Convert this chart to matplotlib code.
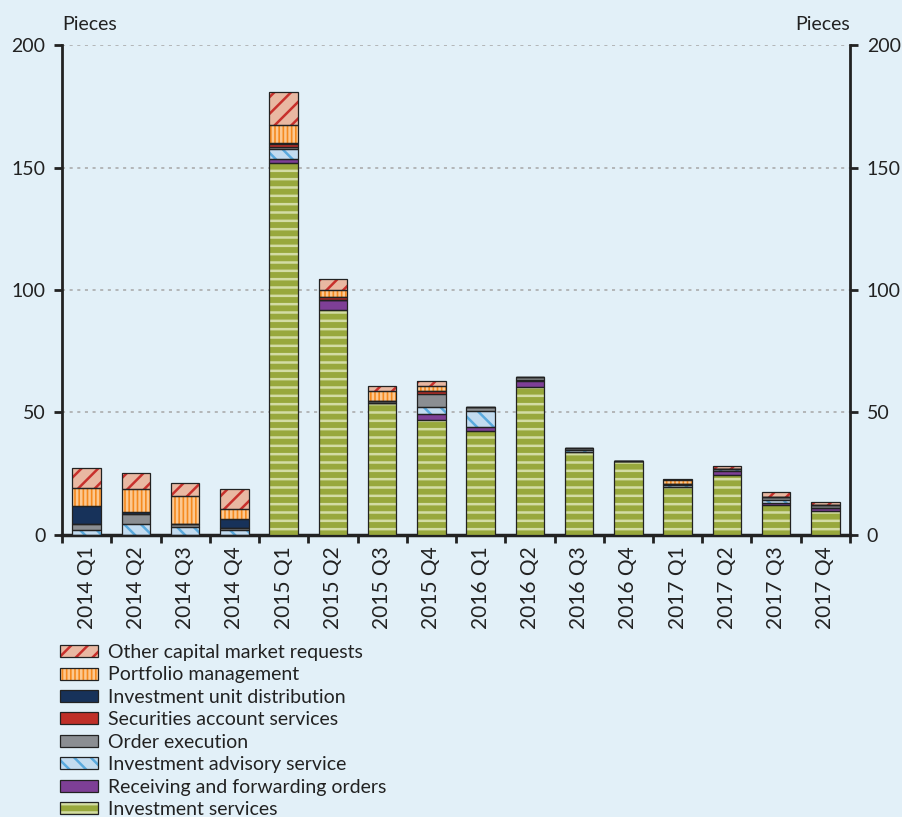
import matplotlib
matplotlib.use("Agg")
import matplotlib.pyplot as plt
from matplotlib.patches import Patch
import numpy as np

# quarters on the x axis
quarters = ["2014 Q1", "2014 Q2", "2014 Q3", "2014 Q4",
            "2015 Q1", "2015 Q2", "2015 Q3", "2015 Q4",
            "2016 Q1", "2016 Q2", "2016 Q3", "2016 Q4",
            "2017 Q1", "2017 Q2", "2017 Q3", "2017 Q4"]

# complaints per category (pieces), stacked bottom -> top
services = [0, 0, 0, 0, 152, 92, 53.7, 47, 42.6, 60.5, 34, 30, 19.7, 24.6, 12.1, 9.9]
receiving = [0, 0, 0, 0, 1.4, 4, 0, 2.4, 1.4, 2.2, 0, 0, 0, 1.4, 1.1, 1.1]
advisory = [2, 4.4, 3.4, 2, 4, 0, 0, 2.7, 6.8, 0.5, 0.7, 0, 0.5, 0.8, 1.1, 0]
order_exec = [2.3, 4, 1, 1, 1, 0, 0.8, 5.4, 1.6, 1.4, 0.7, 0, 0.8, 0, 1.1, 1.4]
securities = [0, 0, 0, 0, 1, 1, 0, 1.4, 0, 0, 0, 0, 0, 0, 0, 0]
distribution = [7.5, 1, 0, 3.7, 0.6, 0, 0, 0, 0, 0, 0, 0, 0, 0, 0, 0]
portfolio = [7.2, 9.5, 11.6, 3.8, 7.2, 3, 4.1, 1.9, 0, 0, 0, 0, 1.4, 0, 0, 0]
other = [8.4, 6.3, 5.2, 8.4, 13.6, 4.5, 2.2, 1.9, 0, 0, 0, 0, 0.5, 1.4, 2.2, 1.1]

# (label, values, fill, hatch, hatch colour)
series = [
    ("Investment services", services, "#98a83c", "--", "#d3dca4"),
    ("Receiving and forwarding orders", receiving, "#7e3f96", None, None),
    ("Investment advisory service", advisory, "#c3dcf0", "\\\\", "#5aaade"),
    ("Order execution", order_exec, "#8b8e92", None, None),
    ("Securities account services", securities, "#bf2f28", None, None),
    ("Investment unit distribution", distribution, "#17325a", None, None),
    ("Portfolio management", portfolio, "#f58a1f", "||||", "#fcc890"),
    ("Other capital market requests", other, "#e9b8a2", "//", "#c8302c"),
]

bg = "#e2f0f8"
edge = "#222222"
txt = "#222222"
fs = 14
plt.rcParams["font.family"] = ["Lato", "DejaVu Sans"]
plt.rcParams["hatch.linewidth"] = 1.8

fig = plt.figure(figsize=(9.03, 8.17), dpi=100, facecolor=bg)
ax = fig.add_axes([0.0687, 0.3452, 0.8726, 0.5997], facecolor=bg)

x = np.arange(len(quarters))
w = 0.58
bottom = np.zeros(len(quarters))
handles = []
for label, vals, fc, hatch, hc in series:
    vals = np.array(vals, dtype=float)
    if hatch:
        ax.bar(x, vals, w, bottom=bottom, color=fc, hatch=hatch,
               edgecolor=hc, linewidth=0, zorder=3)
    else:
        ax.bar(x, vals, w, bottom=bottom, color=fc, linewidth=0, zorder=3)
    ax.bar(x, vals, w, bottom=bottom, facecolor="none", edgecolor=edge,
           linewidth=0.9, zorder=4)
    bottom += vals
    if hatch:
        h = (Patch(facecolor=fc, hatch=hatch, edgecolor=hc, linewidth=0),
             Patch(facecolor="none", edgecolor=edge, linewidth=0.9))
    else:
        h = Patch(facecolor=fc, edgecolor=edge, linewidth=0.9)
    handles.append((h, label))

ax.set_xlim(-0.5, len(quarters) - 0.5)
ax.set_ylim(0, 200)
ax.set_yticks([0, 50, 100, 150, 200])
ax.yaxis.grid(True, color="#a6a6a6", linestyle=(0, (2, 3)), linewidth=1.1, zorder=0)
ax.set_axisbelow(True)

ax.set_xticks(x)
ax.set_xticklabels(quarters, rotation=90, fontsize=15, color=txt)
ax.set_xticks(np.arange(-0.5, len(quarters)), minor=True)
ax.tick_params(axis="x", which="major", length=0, pad=8)
ax.tick_params(axis="x", which="minor", length=6, width=2, color=edge, direction="out")
ax.tick_params(axis="y", which="major", length=6, width=2, color=edge, direction="out",
               labelsize=fs, labelcolor=txt, left=True, right=True,
               labelleft=True, labelright=True, pad=6)

for s in ["left", "right"]:
    ax.spines[s].set_linewidth(2)
    ax.spines[s].set_color(edge)
ax.spines["bottom"].set_linewidth(2.5)
ax.spines["bottom"].set_color(edge)
ax.spines["top"].set_visible(False)

fig.text(62 / 903, 1 - 24 / 817, "Pieces", fontsize=fs, color=txt, va="center", ha="left")
fig.text(850 / 903, 1 - 24 / 817, "Pieces", fontsize=fs, color=txt, va="center", ha="right")

hs = [h for h, l in handles][::-1]
ls = [l for h, l in handles][::-1]
fig.legend(hs, ls, loc="upper left", bbox_to_anchor=(60 / 903, 1 - 644 / 817),
           frameon=False, fontsize=fs, handlelength=1.96, handleheight=0.57,
           handletextpad=0.5, labelspacing=0.28, borderpad=0, borderaxespad=0,
           labelcolor=txt)

fig.savefig("out.png", dpi=100, facecolor=bg)
